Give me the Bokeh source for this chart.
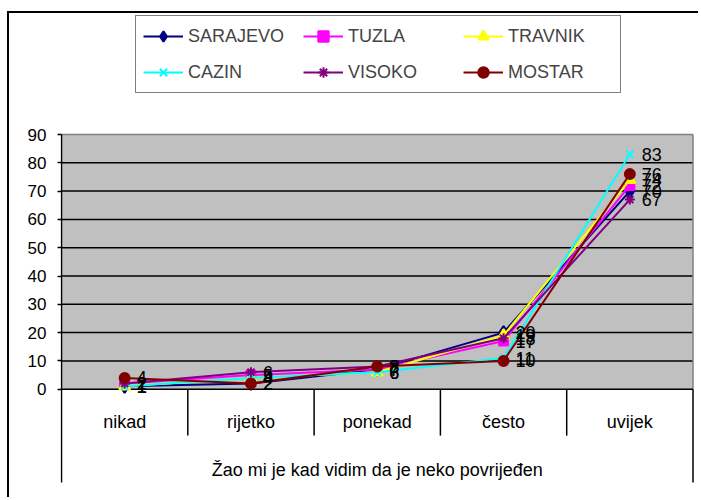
from bokeh.plotting import figure
from bokeh.models import Range1d, FixedTicker, Legend, LegendItem
from bokeh.core.properties import value
from bokeh.embed import file_html
from bokeh.resources import INLINE

categories = ["nikad", "rijetko", "ponekad", "često", "uvijek"]
group_label = "Žao mi je kad vidim da je neko povrijeđen"
series_names = ["SARAJEVO", "TUZLA", "TRAVNIK", "CAZIN", "VISOKO", "MOSTAR"]
sarajevo = [1, 2, 7, 20, 70]
tuzla = [2, 5, 7, 17, 72]
travnik = [1, 4, 6, 19, 74]
cazin = [1, 4, 6, 11, 83]
visoko = [2, 6, 8, 18, 67]
mostar = [4, 2, 8, 10, 76]
y_ticks = [0, 10, 20, 30, 40, 50, 60, 70, 80, 90]

series_values = [sarajevo, tuzla, travnik, cazin, visoko, mostar]
colors = ["#000080", "#FF00FF", "#FFFF00", "#00FFFF", "#800080", "#800000"]
markers = ["diamond", "square", "triangle", "x", "asterisk", "circle"]
msizes = [13, 9, 11, 10, 10, 10]

FONT = "Liberation Sans"

ymax = y_ticks[-1]
ncat = len(categories)
xs = [i + 0.5 for i in range(ncat)]

PX_X = 126.3   # pixels per category
PX_Y = 2.83    # pixels per unit

p = figure(width=691, height=486, output_backend="svg", toolbar_location=None,
           x_range=Range1d(-1 / PX_X, 639 / PX_X),
           y_range=Range1d(-(499 - 388.7) / PX_Y, (388.7 - 13) / PX_Y),
           min_border_left=51, min_border_right=0, min_border_top=0,
           min_border_bottom=0, x_axis_location=None)
p.outline_line_color = None
p.background_fill_color = "white"
p.border_fill_color = "white"
p.xgrid.grid_line_color = None
p.ygrid.grid_line_color = None
p.styles = {"border-left": "2px solid black", "border-top": "2px solid black"}
p.margin = (11, 0, 0, 7)

yax = p.yaxis[0]
yax.ticker = FixedTicker(ticks=y_ticks)
yax.axis_line_color = None
yax.major_tick_out = 3
yax.major_tick_in = 1
yax.major_tick_line_color = "black"
yax.major_tick_line_width = 1.5
yax.minor_tick_line_color = None
yax.major_label_standoff = 11
yax.major_label_text_font = FONT
yax.major_label_text_font_size = "17px"
yax.major_label_text_color = "black"

# plot area
p.quad(left=0, right=ncat, bottom=0, top=ymax, fill_color="#C0C0C0", line_color=None)
p.segment(x0=0, x1=ncat, y0=y_ticks[1:-1], y1=y_ticks[1:-1], line_color="black", line_width=1.5)
p.segment(x0=[0, ncat], x1=[ncat, ncat], y0=[ymax, 0], y1=[ymax, ymax],
          line_color="#808080", line_width=1.5)
p.segment(x0=0, x1=ncat, y0=0, y1=0, line_color="black", line_width=1.5)
p.segment(x0=0, x1=0, y0=-33, y1=ymax, line_color="black", line_width=1.5)

# category axis separators and labels
p.segment(x0=[1, 2, 3, 4], x1=[1, 2, 3, 4], y0=0, y1=-16.4, line_color="black", line_width=1.5)
p.segment(x0=ncat, x1=ncat, y0=0, y1=-33, line_color="black", line_width=1.5)
p.text(x=xs, y=-11.6, text=categories, text_align="center", text_baseline="middle",
       text_font=value(FONT), text_font_size="18px", text_color="black")
p.text(x=[ncat / 2], y=[-28.6], text=[group_label], text_align="center", text_baseline="middle",
       text_font=value(FONT), text_font_size="18px", text_color="black")

items = []
for name, vals, c, m, s in zip(series_names, series_values, colors, markers, msizes):
    lr = p.line(xs, vals, line_color=c, line_width=2)
    sr = p.scatter(xs, vals, marker=m, size=s, fill_color=c, line_color=c, line_width=2)
    items.append(LegendItem(label=name, renderers=[lr, sr]))

for vals in series_values:
    p.text(x=xs, y=vals, text=[str(v) for v in vals], x_offset=12, text_align="left",
           text_baseline="middle", text_font=value(FONT), text_font_size="18px",
           text_color="black")

legend = Legend(items=items, location=(75, 406), orientation="horizontal", nrows=2, ncols=3,
                glyph_width=40, glyph_height=26, label_standoff=5, label_width=105,
                label_height=26, spacing=10, padding=7, margin=0,
                label_text_font=FONT, label_text_font_size="18px",
                border_line_color="black", border_line_width=1.5,
                background_fill_color="white", background_fill_alpha=1)
p.add_layout(legend, "center")

open("out.html", "w").write(file_html(p, INLINE))
